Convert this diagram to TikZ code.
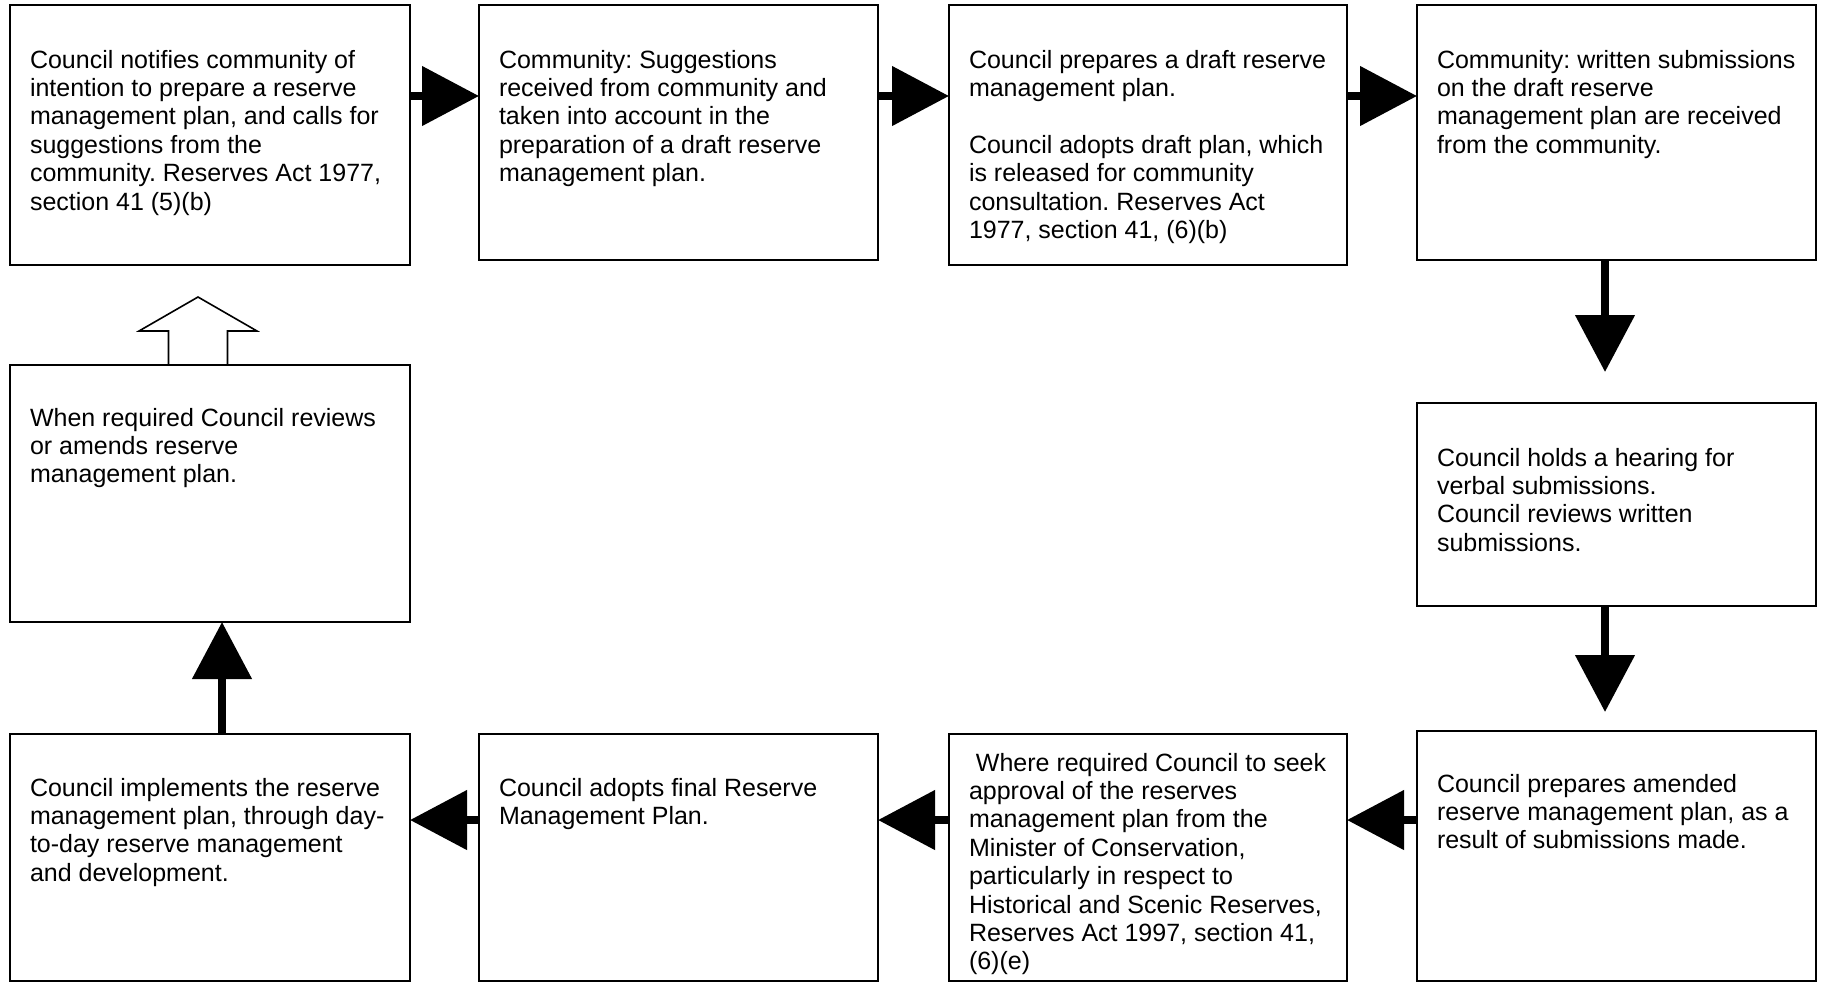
\documentclass[tikz,border=0pt]{standalone}
\usepackage{fontspec}
\setmainfont{Liberation Sans}
\usetikzlibrary{arrows.meta}
\frenchspacing
\newcommand\boxtext[1]{\parbox[t]{195pt}{\fontsize{12.5pt}{14.2pt}\selectfont\frenchspacing\raggedright #1}}
\begin{document}
\begin{tikzpicture}[x=0.5pt,y=-0.5pt,
  box/.style={draw=black, line width=0.9pt, fill=white, inner sep=0pt, outer sep=0pt, anchor=north west},
  txt/.style={anchor=base west, inner sep=0pt, outer sep=0pt},
  flow/.style={line width=4pt, -{Triangle[length=28.5pt,width=29pt]}},
  hollow/.style={draw=black, line width=0.8pt, fill=white, line join=miter}]
\useasboundingbox (0,0) rectangle (1824,982);
\fill[white] (0,0) rectangle (1824,982);
% hollow block arrow above b10 (drawn first so the box border stays on top)
\draw[hollow] (168.5,366) -- (168.5,331) -- (139,331) -- (198,297) -- (257,331) -- (227.5,331) -- (227.5,366);
% boxes
\node[box, minimum width=200pt,   minimum height=130pt]   (b1)  at (10,5)    {};
\node[box, minimum width=199.5pt, minimum height=127.5pt] (b2)  at (479,5)   {};
\node[box, minimum width=199pt,   minimum height=130pt]   (b3)  at (949,5)   {};
\node[box, minimum width=199.5pt, minimum height=127.5pt] (b4)  at (1417,5)  {};
\node[box, minimum width=199.5pt, minimum height=101.5pt] (b5)  at (1417,403) {};
\node[box, minimum width=199.5pt, minimum height=125pt]   (b6)  at (1417,731) {};
\node[box, minimum width=199pt,   minimum height=123.5pt] (b7)  at (949,734) {};
\node[box, minimum width=199.5pt, minimum height=123.5pt] (b8)  at (479,734) {};
\node[box, minimum width=200pt,   minimum height=123.5pt] (b9)  at (10,734)  {};
\node[box, minimum width=200pt,   minimum height=128.5pt] (b10) at (10,365)  {};
% texts
\node[txt] (t1) at (30,68) {\boxtext{Council notifies community of\\ intention to prepare a reserve\\ management plan, and calls for\\ suggestions from the\\ community. Reserves Act 1977,\\ section 41 (5)(b)}};
\node[txt] (t2) at (499,68) {\boxtext{Community: Suggestions\\ received from community and\\ taken into account in the\\ preparation of a draft reserve\\ management plan.}};
\node[txt] (t3) at (969,68) {\boxtext{Council prepares a draft reserve\\ management plan.\\[14.2pt] Council adopts draft plan, which\\ is released for community\\ consultation. Reserves Act\\ 1977, section 41, (6)(b)}};
\node[txt] (t4) at (1437,68) {\boxtext{Community: written submissions\\ on the draft reserve\\ management plan are received\\ from the community.}};
\node[txt] (t5) at (1437,466) {\boxtext{Council holds a hearing for\\ verbal submissions.\\ Council reviews written\\ submissions.}};
\node[txt] (t6) at (1437,792) {\boxtext{Council prepares amended\\ reserve management plan, as a\\ result of submissions made.}};
\node[txt] (t7) at (969,771) {\boxtext{\ Where required Council to seek\\ approval of the reserves\\ management plan from the\\ Minister of Conservation,\\ particularly in respect to\\ Historical and Scenic Reserves,\\ Reserves Act 1997, section 41,\\ (6)(e)}};
\node[txt] (t8) at (499,796) {\boxtext{Council adopts final Reserve\\ Management Plan.}};
\node[txt] (t9) at (30,796) {\boxtext{Council implements the reserve\\ management plan, through day-\\ to-day reserve management\\ and development.}};
\node[txt] (t10) at (30,426) {\boxtext{When required Council reviews\\ or amends reserve\\ management plan.}};
% connector guides
\coordinate (r1) at (0,96);
\coordinate (r3) at (0,820);
\coordinate (c4) at (1605,0);
\coordinate (c1) at (222,0);
% top row
\draw[flow] (r1 -| b1.east) -- (r1 -| b2.west);
\draw[flow] (r1 -| b2.east) -- (r1 -| b3.west);
\draw[flow] (r1 -| b3.east) -- (r1 -| b4.west);
% right column
\draw[flow, shorten >=15.5pt] (c4 |- b4.south) -- (c4 |- b5.north);
\draw[flow, shorten >=9.5pt] (c4 |- b5.south) -- (c4 |- b6.north);
% bottom row
\draw[flow] (r3 -| b6.west) -- (r3 -| b7.east);
\draw[flow] (r3 -| b7.west) -- (r3 -| b8.east);
\draw[flow] (r3 -| b8.west) -- (r3 -| b9.east);
% left column
\draw[flow] (c1 |- b9.north) -- (c1 |- b10.south);
\end{tikzpicture}
\end{document}
